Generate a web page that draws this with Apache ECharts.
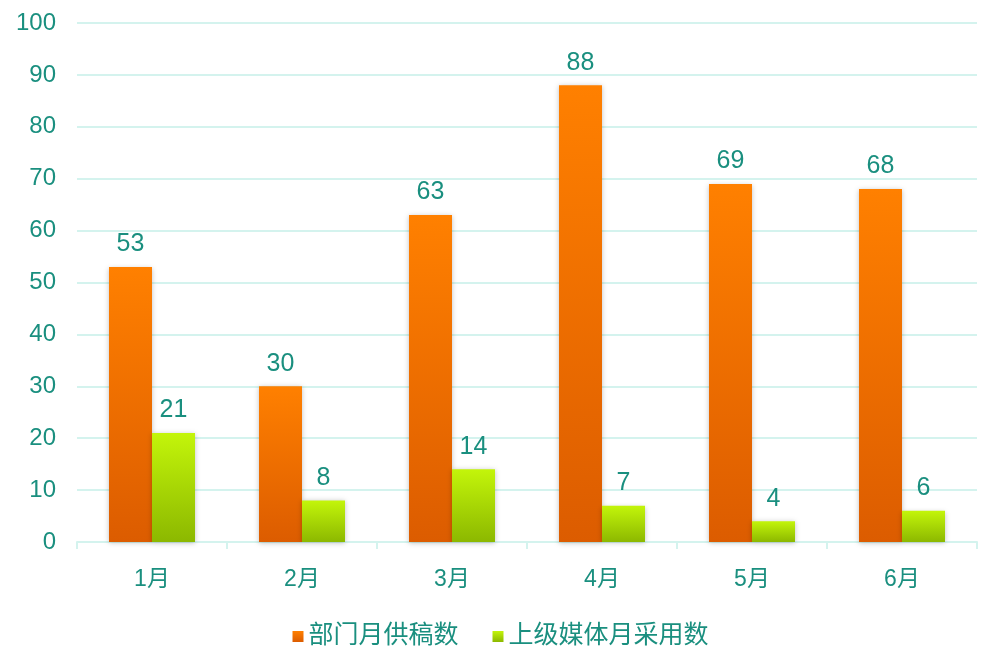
<!DOCTYPE html>
<html><head><meta charset="utf-8">
<script src="https://cdn.jsdelivr.net/npm/echarts@6/dist/echarts.min.js"></script>
<style>html,body{margin:0;padding:0;background:#fff}#c{width:1001px;height:666px}</style>
</head><body><div id="c"></div>
<script>
const categories = ['1月','2月','3月','4月','5月','6月'];
const seriesNames = ['部门月供稿数','上级媒体月采用数'];
const supplied = [53,30,63,88,69,68];
const adopted = [21,8,14,7,4,6];
const teal = '#1a8f7f';
const font = '"Liberation Sans", Arial, "Noto Sans CJK SC", sans-serif';
const chart = echarts.init(document.getElementById('c'));
function grad(a,b){return new echarts.graphic.LinearGradient(0,0,0,1,[{offset:0,color:a},{offset:1,color:b}]);}
const label = {show:true,position:'top',distance:10,color:teal,fontSize:25,fontFamily:font};
chart.setOption({
  animation:false,
  grid:{left:77,right:24,top:23,bottom:124},
  legend:{bottom:12,left:'center',padding:[5,0,5,10],itemWidth:11,itemHeight:11,itemGap:34,icon:'rect',
    textStyle:{color:teal,fontSize:25,fontFamily:font,padding:[0,0,0,0]}},
  xAxis:{type:'category',data:categories,
    axisLine:{lineStyle:{color:'#d4f3ee',width:2}},
    axisTick:{show:true,length:7,lineStyle:{color:'#d4f3ee',width:2}},
    axisLabel:{color:teal,fontSize:23,fontFamily:font,margin:26}},
  yAxis:{type:'value',min:0,max:100,interval:10,
    axisLine:{show:false},axisTick:{show:false},
    splitLine:{lineStyle:{color:'#d4f3ee',width:2}},
    axisLabel:{color:teal,fontSize:24,fontFamily:font,margin:21}},
  series:[
    {name:seriesNames[0],type:'bar',data:supplied,barWidth:43,barGap:'0%',
      itemStyle:{color:grad('#ff8000','#dc5c00'),shadowColor:'rgba(0,0,0,0.25)',shadowBlur:5,shadowOffsetX:0,shadowOffsetY:1},label:label},
    {name:seriesNames[1],type:'bar',data:adopted,barWidth:43,
      itemStyle:{color:grad('#c3f50a','#8cb800'),shadowColor:'rgba(0,0,0,0.25)',shadowBlur:5,shadowOffsetX:0,shadowOffsetY:1},label:label}
  ]
});
</script></body></html>
